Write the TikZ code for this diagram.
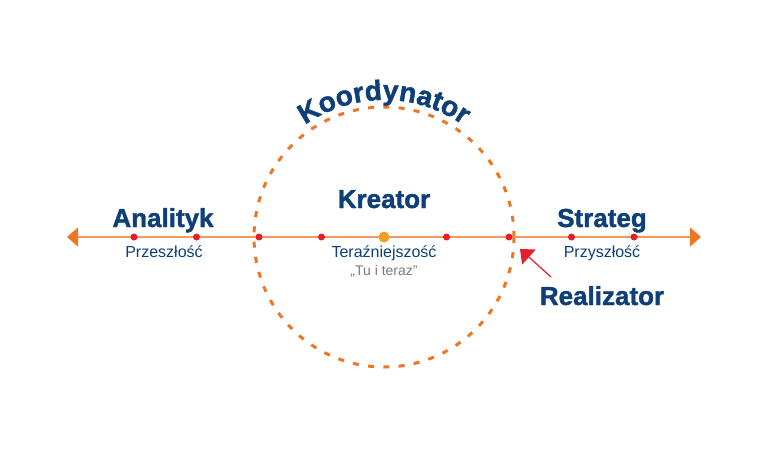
\documentclass[tikz,border=0pt]{standalone}
\usepackage{fontspec}
\setmainfont{Liberation Sans}
\newfontfamily\heavy[FakeBold=1.5]{Liberation Sans Bold}
\usetikzlibrary{arrows.meta,decorations.text,calc}
\definecolor{navy}{HTML}{0E3F78}
\definecolor{orng}{HTML}{EE7623}
\definecolor{lorng}{HTML}{F29A5C}
\definecolor{rdot}{HTML}{E51E2A}
\definecolor{cdot}{HTML}{F39C1F}
\definecolor{gry}{HTML}{7A7A7A}
\tikzset{
  role/.style={font=\fontsize{26}{28}\selectfont\heavy, text=navy, anchor=base, inner sep=0pt},
  time/.style={font=\fontsize{16}{18}\selectfont, text=navy, anchor=base, inner sep=0pt},
  note/.style={font=\fontsize{14}{16}\selectfont, text=gry, anchor=base, inner sep=0pt},
  rdotst/.style={circle, fill=rdot, inner sep=0pt, minimum size=7pt},
  cdotst/.style={circle, fill=cdot, inner sep=0pt, minimum size=11pt},
  axis/.style={draw=lorng, line width=1.3pt, {Triangle[length=11pt,width=19pt,color=orng]}-{Triangle[length=11pt,width=19pt,color=orng]}},
  ring/.style={draw=orng, line width=3pt, dash pattern=on 6pt off 9.3pt},
  pointer/.style={draw=rdot, line width=1.2pt, -{Triangle[length=12pt,width=20pt]}, color=rdot}
}
\begin{document}
\begin{tikzpicture}[x=1pt,y=1pt]
\useasboundingbox (0,0) rectangle (768,475);
\coordinate (ctr) at (384,238);
\coordinate (lend) at (67,238);
\coordinate (rend) at (701,238);
\draw[ring] (ctr) circle[radius=130];
\draw[axis] (lend) -- (rend);
\foreach \k/\n in {-4/d1,-3/d2,-2/d3,-1/d4,1/d6,2/d7,3/d8,4/d9}
  \node[rdotst] (\n) at ($(ctr)+(62.5*\k,0)$) {};
\node[cdotst] (d5) at (ctr) {};
\node[role] (analityk) at (163,248) {Analityk};
\node[time] (przeszlosc) at (164,218) {Przeszłość};
\node[role] (kreator) at (384,267) {Kreator};
\node[time] (terazn) at (384,218) {Teraźniejszość};
\node[note] (tuteraz) at (384,200) {„Tu i teraz”};
\node[role] (strateg) at (602,248) {Strateg};
\node[time] (przyszlosc) at (602,218) {Przyszłość};
\node[role] (realizator) at (602,170) {Realizator};
\coordinate (rtail) at (551,198);
\coordinate (rtip) at (520,226);
\draw[pointer] (rtail) -- (rtip);
\path[decorate, decoration={text along path, text align=center,
  text format delimiters={|}{|},
  text={|\fontsize{28}{30}\selectfont\heavy\color{navy}|Koordynator}}]
  ($(ctr)+(150:137)$) arc[start angle=150, end angle=30, radius=137];
\end{tikzpicture}
\end{document}
